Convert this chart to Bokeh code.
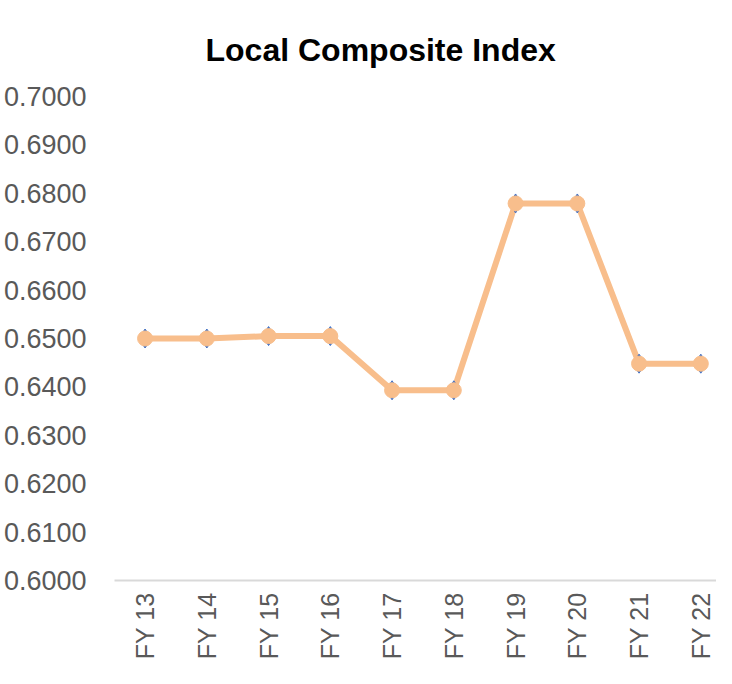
from bokeh.plotting import figure
from bokeh.models import Range1d, FixedTicker, NumeralTickFormatter
from bokeh.embed import file_html
from bokeh.resources import INLINE
import math

categories = ["FY 13", "FY 14", "FY 15", "FY 16", "FY 17", "FY 18", "FY 19", "FY 20", "FY 21", "FY 22"]
values = [0.6500, 0.6500, 0.6505, 0.6505, 0.6393, 0.6393, 0.6779, 0.6779, 0.6448, 0.6448]
y_ticks = [0.60, 0.61, 0.62, 0.63, 0.64, 0.65, 0.66, 0.67, 0.68, 0.69, 0.70]

xs = list(range(len(categories)))

W, H = 716, 668
p = figure(width=W, height=H, output_backend="svg", toolbar_location=None,
           x_range=Range1d(-0.495, 9.254), y_range=Range1d(0.60, 0.70),
           title="Local Composite Index")
p.min_border_left = 106
p.min_border_right = 0
p.min_border_top = 85
p.min_border_bottom = H - 85 - 495
p.outline_line_color = None
p.background_fill_color = "white"
p.border_fill_color = "white"

p.title.text_font = "Liberation Sans"
p.title.text_font_style = "bold"
p.title.text_font_size = "32px"
p.title.text_color = "black"
p.title.align = "left"
p.title.offset = 91
p.title.standoff = 58

p.xgrid.visible = False
p.ygrid.visible = False

p.xaxis.ticker = FixedTicker(ticks=xs)
p.xaxis.major_label_overrides = {i: c for i, c in zip(xs, categories)}
p.xaxis.major_label_orientation = math.pi / 2
p.xaxis.major_label_text_font = "Liberation Sans"
p.xaxis.major_label_text_font_size = "25px"
p.xaxis.major_label_text_color = "#595959"
p.xaxis.major_label_standoff = 6
p.xaxis.axis_line_color = "#D9D9D9"
p.xaxis.axis_line_width = 2
p.xaxis.major_tick_line_color = None
p.xaxis.minor_tick_line_color = None

p.yaxis.ticker = FixedTicker(ticks=y_ticks)
p.yaxis.formatter = NumeralTickFormatter(format="0.0000")
p.yaxis.major_label_text_font = "Liberation Sans"
p.yaxis.major_label_text_font_size = "27px"
p.yaxis.major_label_text_color = "#595959"
p.yaxis.major_label_standoff = 22
p.yaxis.axis_line_color = None
p.yaxis.major_tick_line_color = None
p.yaxis.minor_tick_line_color = None

line_color = "#F8BE8C"
p.line(xs, values, line_color=line_color, line_width=6, line_join="round")
p.scatter(xs, values, marker="diamond", size=19, fill_color="#4472C4", line_color="#4472C4")
p.scatter(xs, values, marker="circle", size=15, fill_color=line_color, line_color=line_color)

open("out.html", "w").write(file_html(p, INLINE))
